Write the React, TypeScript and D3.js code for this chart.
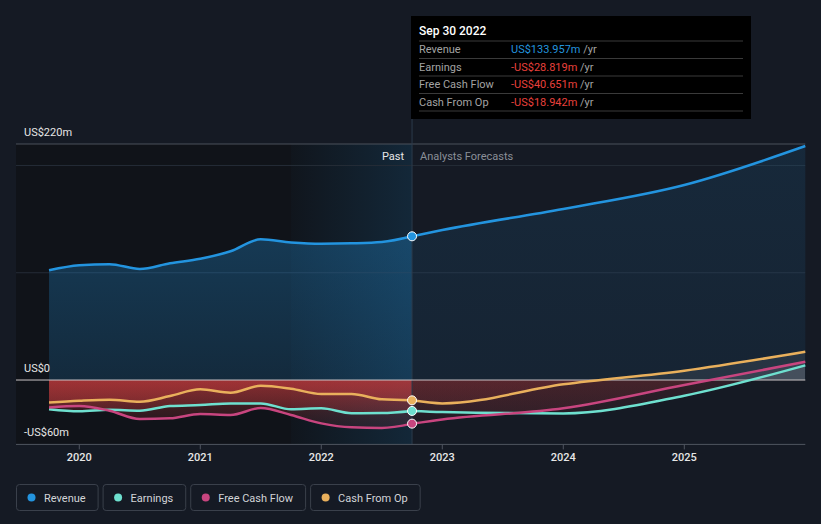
import React, { useMemo } from 'react';
import * as d3 from 'd3';

// ---------- data (US$ millions) ----------
const pastDates = [2019.75, 2020.0, 2020.25, 2020.5, 2020.75, 2021.0, 2021.25, 2021.5, 2021.75, 2022.0, 2022.25, 2022.5, 2022.75];
const revenuePast = [102.3, 107.0, 108.0, 103.5, 108.8, 113.0, 120.0, 131.2, 128.3, 127.0, 127.4, 128.6, 133.957];
const earningsPast = [-27.3, -29.2, -27.8, -28.6, -24.2, -23.3, -21.8, -21.8, -27.3, -26.4, -31.0, -30.8, -28.819];
const fcfPast = [-25.5, -24.2, -28.6, -36.4, -35.7, -31.7, -32.6, -26.1, -32.6, -40.4, -44.1, -44.7, -40.651];
const cfoPast = [-21.0, -19.3, -18.3, -20.2, -14.9, -8.7, -11.8, -5.3, -8.1, -13.0, -13.0, -18.0, -18.942];

const forecastDates = [2022.75, 2023.0, 2024.0, 2025.0, 2026.0];
const revenueForecast = [133.957, 139.8, 159.4, 181.8, 218.1];
const earningsForecast = [-28.819, -29.8, -31.1, -14.6, 13.7];
const fcfForecast = [-40.651, -36.7, -26.4, -4.7, 17.0];
const cfoForecast = [-18.942, -21.8, -4.0, 8.7, 26.4];

const tickYears = [2020, 2021, 2022, 2023, 2024, 2025];
const yLabelValues = [220, 0, -60];
const yLabelTexts = ['US$220m', 'US$0', '-US$60m'];
const gridValues = [200, 100];

const seriesNames = ['Revenue', 'Earnings', 'Free Cash Flow', 'Cash From Op'];
const seriesColors = ['#2394df', '#6ee0cf', '#c8457f', '#e9b05c'];
const tooltipTitle = 'Sep 30 2022';
const tooltipValues = ['US$133.957m', '-US$28.819m', '-US$40.651m', '-US$18.942m'];
const tooltipValueColors = ['#2394df', '#e8403c', '#e8403c', '#e8403c'];

const highlightStart = 2021.75;
const nowDate = 2022.75;

const W = 821;
const H = 524;
const FONT = 'Roboto, "Noto Sans", sans-serif';

function zip(d: number[], v: number[]): [number, number][] {
  return d.map((x, i) => [x, v[i]]);
}

export default function App() {
  const x = d3.scaleLinear().domain([2019.477, 2026]).range([16, 805.3]);
  const y = d3.scaleLinear().domain([-60, 220]).range([444.4, 144]);

  const line = d3
    .line<[number, number]>()
    .x((d) => x(d[0]))
    .y((d) => y(d[1]))
    .curve(d3.curveMonotoneX);
  const area = d3
    .area<[number, number]>()
    .x((d) => x(d[0]))
    .y0(y(0))
    .y1((d) => y(d[1]))
    .curve(d3.curveMonotoneX);

  const past = [revenuePast, earningsPast, fcfPast, cfoPast].map((v) => zip(pastDates, v));
  const fore = [revenueForecast, earningsForecast, fcfForecast, cfoForecast].map((v) => zip(forecastDates, v));

  const x0 = x.range()[0];
  const x1 = x.range()[1];
  const xNow = x(nowDate);
  const xHi = x(highlightStart);
  const yTop = y(220);
  const yBot = y(-60);
  const yZero = y(0);

  const legendWidths = useMemo(() => {
    const c = document.createElement('canvas').getContext('2d');
    if (!c) return seriesNames.map((s) => s.length * 5.8);
    c.font = `11px ${FONT}`;
    return seriesNames.map((s) => c.measureText(s).width);
  }, []);

  let lx = 16;
  const legendItems = seriesNames.map((name, i) => {
    const w = 28 + legendWidths[i] + 12;
    const item = { name, x: lx, w, color: seriesColors[i] };
    lx += w + 5;
    return item;
  });

  const drawOrder = [3, 1, 2, 0];

  return (
    <svg
      width={W}
      height={H}
      style={{ position: 'absolute', left: 0, top: 0, display: 'block' }}
      fontFamily={FONT}
    >
      <defs>
        <linearGradient id="band" x1="0" x2="1" y1="0" y2="0">
          <stop offset="0" stopColor="#2394df" stopOpacity="0.02" />
          <stop offset="1" stopColor="#2394df" stopOpacity="0.16" />
        </linearGradient>
        <linearGradient id="revPast" x1="0" x2="0" y1="0" y2="1">
          <stop offset="0" stopColor="#2394df" stopOpacity="0.3" />
          <stop offset="1" stopColor="#2394df" stopOpacity="0.18" />
        </linearGradient>
        <linearGradient id="revFore" x1="0" x2="0" y1="0" y2="1">
          <stop offset="0" stopColor="#2394df" stopOpacity="0.12" />
          <stop offset="1" stopColor="#2394df" stopOpacity="0.08" />
        </linearGradient>
        <linearGradient id="negPast" gradientUnits="userSpaceOnUse" x1="0" x2="0" y1={yZero} y2={yZero + 55}>
          <stop offset="0" stopColor="#c23a3c" stopOpacity="0.42" />
          <stop offset="1" stopColor="#c23a3c" stopOpacity="0.06" />
        </linearGradient>
        <linearGradient id="negFore" gradientUnits="userSpaceOnUse" x1="0" x2="0" y1={yZero} y2={yZero + 55}>
          <stop offset="0" stopColor="#c23a3c" stopOpacity="0.15" />
          <stop offset="1" stopColor="#c23a3c" stopOpacity="0.05" />
        </linearGradient>
        <clipPath id="pastNeg">
          <rect x={x0} y={yZero} width={xNow - x0} height={yBot - yZero} />
        </clipPath>
        <clipPath id="pastPos">
          <rect x={x0} y={yTop - 10} width={xNow - x0} height={yZero - yTop + 10} />
        </clipPath>
        <clipPath id="foreNeg">
          <rect x={xNow} y={yZero} width={x1 - xNow} height={yBot - yZero} />
        </clipPath>
        <clipPath id="forePos">
          <rect x={xNow} y={yTop - 10} width={x1 - xNow} height={yZero - yTop + 10} />
        </clipPath>
      </defs>

      {/* background */}
      <rect x={0} y={0} width={W} height={H} fill="#151a24" />
      <rect x={x0} y={yTop} width={xNow - x0} height={yBot - yTop} fill="#0e1116" opacity={0.7} />
      <rect x={xHi} y={yTop} width={xNow - xHi} height={yBot - yTop} fill="url(#band)" />

      {/* grid */}
      {gridValues.map((g) => (
        <line key={g} x1={x0} x2={x1} y1={y(g)} y2={y(g)} stroke="#252c37" strokeWidth={1} />
      ))}
      <line x1={x0} x2={x1} y1={yTop} y2={yTop} stroke="#4a505b" strokeWidth={1} />

      {/* revenue areas */}
      <path d={area(past[0]) || ''} fill="url(#revPast)" />
      <path d={area(fore[0]) || ''} fill="url(#revFore)" />

      {/* other series areas */}
      {[3, 1, 2].map((i) => (
        <g key={'a' + i}>
          <path d={area(past[i]) || ''} fill="url(#negPast)" clipPath="url(#pastNeg)" />
          <path d={area(past[i]) || ''} fill="#c8c8d0" fillOpacity={0.1} clipPath="url(#pastPos)" />
          <path d={area(fore[i]) || ''} fill="url(#negFore)" clipPath="url(#foreNeg)" />
          <path d={area(fore[i]) || ''} fill="#c8c8d0" fillOpacity={0.1} clipPath="url(#forePos)" />
        </g>
      ))}

      {/* now line */}
      <line x1={xNow} x2={xNow} y1={119} y2={yBot} stroke="#2b3a4b" strokeWidth={1} />

      {/* zero line */}
      <line x1={x0} x2={x1} y1={yZero} y2={yZero} stroke="#c9c4c6" strokeWidth={1} />

      {/* bottom axis */}
      <line x1={x0} x2={x1} y1={yBot} y2={yBot} stroke="#4f5560" strokeWidth={1} />
      {tickYears.map((t) => (
        <g key={t}>
          <line x1={x(t)} x2={x(t)} y1={yBot} y2={yBot + 5} stroke="#4f5560" />
          <text x={x(t)} y={yBot + 17} fill="#e6e6e6" fontSize={11} textAnchor="middle" fontWeight={500}>
            {t}
          </text>
        </g>
      ))}

      {/* lines */}
      {drawOrder.map((i) => (
        <g key={'l' + i}>
          <path d={line(past[i]) || ''} fill="none" stroke={seriesColors[i]} strokeWidth={2.5} />
          <path d={line(fore[i]) || ''} fill="none" stroke={seriesColors[i]} strokeWidth={2.5} />
        </g>
      ))}

      {/* markers */}
      {drawOrder.map((i) => (
        <circle
          key={'c' + i}
          cx={xNow}
          cy={y(past[i][past[i].length - 1][1])}
          r={4.5}
          fill={seriesColors[i]}
          stroke="#ffffff"
          strokeWidth={1}
        />
      ))}

      {/* y labels */}
      {yLabelValues.map((v, i) => (
        <text key={v} x={24} y={y(v) - 8} fill="#e6e6e6" fontSize={11}>
          {yLabelTexts[i]}
        </text>
      ))}

      {/* past / forecast labels */}
      <text x={xNow - 8} y={160} fill="#e6e6e6" fontSize={11} textAnchor="end">
        Past
      </text>
      <text x={xNow + 8} y={160} fill="#8a8f98" fontSize={11}>
        Analysts Forecasts
      </text>

      {/* tooltip */}
      <g>
        <rect x={411} y={16} width={340} height={103} fill="#000000" />
        <text x={419} y={35} fill="#ffffff" fontSize={12} fontWeight={500}>
          {tooltipTitle}
        </text>
        {[41, 58.5, 76, 93.5, 111].map((yy) => (
          <line key={yy} x1={419} x2={743} y1={yy} y2={yy} stroke="#3a3a3a" strokeWidth={1} />
        ))}
        {seriesNames.map((n, i) => (
          <g key={n}>
            <text x={419} y={53 + i * 17.5} fill="#a3a3a3" fontSize={11}>
              {n}
            </text>
            <text x={511} y={53 + i * 17.5} fontSize={11}>
              <tspan fill={tooltipValueColors[i]}>{tooltipValues[i]}</tspan>
              <tspan fill="#a3a3a3"> /yr</tspan>
            </text>
          </g>
        ))}
      </g>

      {/* legend */}
      {legendItems.map((it) => (
        <g key={it.name}>
          <rect x={it.x + 0.5} y={484.5} width={it.w} height={26} rx={3} fill="none" stroke="#3a404b" strokeWidth={1} />
          <circle cx={it.x + 15.5} cy={497.5} r={4} fill={it.color} />
          <text x={it.x + 28} y={501.5} fill="#d2d4d8" fontSize={11}>
            {it.name}
          </text>
        </g>
      ))}
    </svg>
  );
}
